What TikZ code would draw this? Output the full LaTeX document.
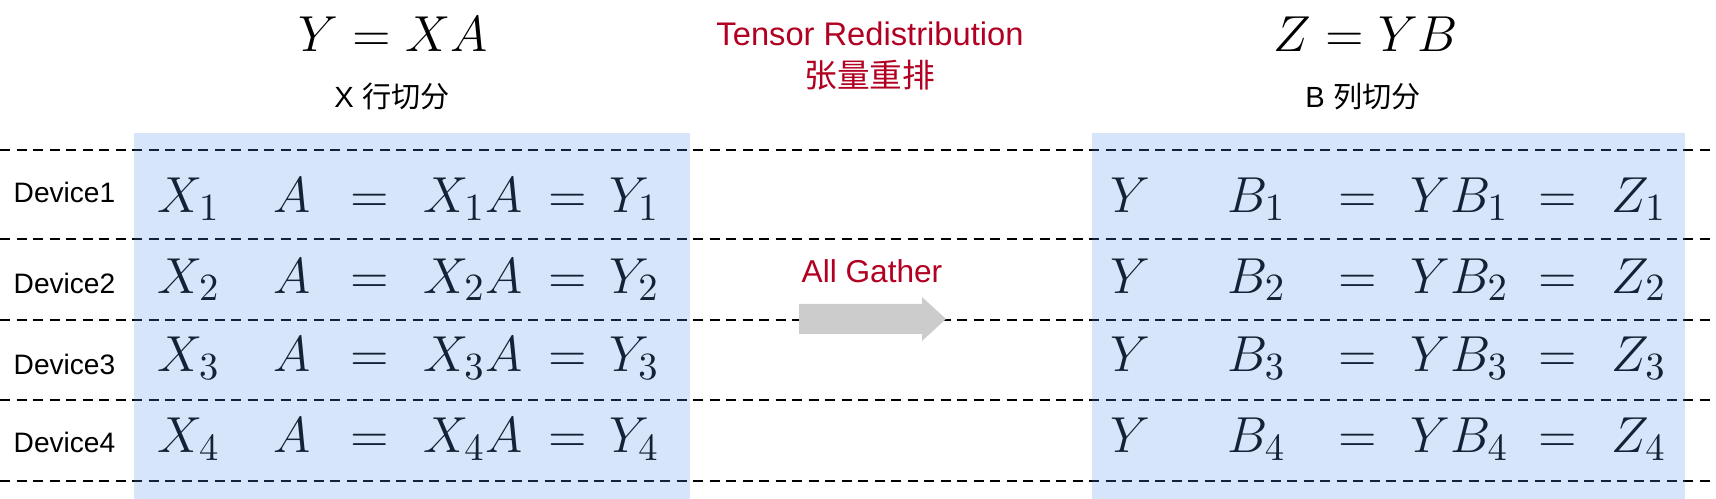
\documentclass[tikz,border=0pt]{standalone}
\usepackage[no-math]{fontspec}
\setmainfont{Liberation Sans}
\newfontfamily\cjk{Noto Sans CJK SC}
\definecolor{boxblue}{RGB}{83,146,229}
\definecolor{tred}{RGB}{178,0,34}
\definecolor{arrowgray}{RGB}{204,204,204}
\tikzset{
  eqn/.style={anchor=base,inner sep=0pt,font=\fontsize{15}{18}\selectfont},
  device/.style={anchor=base,inner sep=0pt,font=\fontsize{8}{10}\selectfont},
  note/.style={anchor=base,inner sep=0pt,font=\fontsize{8.3}{10}\selectfont},
  redlabel/.style={anchor=base,inner sep=0pt,text=tred,font=\fontsize{9.3}{11}\selectfont},
  sepline/.style={line width=0.02cm,dash pattern=on 0.1cm off 0.065cm},
  halfbox/.style={fill=boxblue,fill opacity=0.24}
}
\begin{document}
\begin{tikzpicture}
\useasboundingbox (0,0) rectangle (17.16,4.99);
% device separators
\draw[sepline] (0,3.49) -- (17.16,3.49);
\draw[sepline] (0,2.60) -- (17.16,2.60);
\draw[sepline] (0,1.79) -- (17.16,1.79);
\draw[sepline] (0,0.99) -- (17.16,0.99);
\draw[sepline] (0,0.18) -- (17.16,0.18);
% headings
\node[eqn] (tl) at (3.93,4.47) {$Y = XA$};
\node[note] (sl) at (3.92,3.91) {X {\cjk 行切分}};
\node[eqn] (tr) at (13.66,4.47) {$Z = YB$};
\node[note] (sr) at (13.63,3.91) {B {\cjk 列切分}};
\node[redlabel] (ten) at (8.70,4.53) {Tensor Redistribution};
\node[redlabel] (tcn) at (8.70,4.11) {\cjk 张量重排};
\node[redlabel,font=\fontsize{9}{11}\selectfont] (ag) at (8.72,2.16) {All Gather};
% device 1
\begin{scope}[yshift=2.86 cm]
\node[device] (d1) at (0.645,0.10) {Device1};
\node[eqn] (lx1) at (1.89,0) {$X_1$};
\node[eqn] (la1) at (2.925,0) {$A$};
\node[eqn] (leq1) at (3.70,0) {$=$};
\node[eqn] (lxa1) at (4.73,0) {$X_1A$};
\node[eqn] (lee1) at (5.68,0) {$=$};
\node[eqn] (ly1) at (6.345,0) {$Y_1$};
\node[eqn] (ry1) at (11.30,0) {$Y$};
\node[eqn] (rb1) at (12.565,0) {$B_1$};
\node[eqn] (req1) at (13.575,0) {$=$};
\node[eqn] (ryb1) at (14.595,0) {$YB_1$};
\node[eqn] (ree1) at (15.58,0) {$=$};
\node[eqn] (rz1) at (16.39,0) {$Z_1$};
\end{scope}
% device 2
\begin{scope}[yshift=2.06 cm]
\node[device] (d2) at (0.645,0) {Device2};
\node[eqn] (lx2) at (1.89,0) {$X_2$};
\node[eqn] (la2) at (2.925,0) {$A$};
\node[eqn] (leq2) at (3.70,0) {$=$};
\node[eqn] (lxa2) at (4.73,0) {$X_2A$};
\node[eqn] (lee2) at (5.68,0) {$=$};
\node[eqn] (ly2) at (6.345,0) {$Y_2$};
\node[eqn] (ry2) at (11.30,0) {$Y$};
\node[eqn] (rb2) at (12.565,0) {$B_2$};
\node[eqn] (req2) at (13.575,0) {$=$};
\node[eqn] (ryb2) at (14.595,0) {$YB_2$};
\node[eqn] (ree2) at (15.58,0) {$=$};
\node[eqn] (rz2) at (16.39,0) {$Z_2$};
\end{scope}
% device 3
\begin{scope}[yshift=1.27 cm]
\node[device] (d3) at (0.645,-0.03) {Device3};
\node[eqn] (lx3) at (1.89,0) {$X_3$};
\node[eqn] (la3) at (2.925,0) {$A$};
\node[eqn] (leq3) at (3.70,0) {$=$};
\node[eqn] (lxa3) at (4.73,0) {$X_3A$};
\node[eqn] (lee3) at (5.68,0) {$=$};
\node[eqn] (ly3) at (6.345,0) {$Y_3$};
\node[eqn] (ry3) at (11.30,0) {$Y$};
\node[eqn] (rb3) at (12.565,0) {$B_3$};
\node[eqn] (req3) at (13.575,0) {$=$};
\node[eqn] (ryb3) at (14.595,0) {$YB_3$};
\node[eqn] (ree3) at (15.58,0) {$=$};
\node[eqn] (rz3) at (16.39,0) {$Z_3$};
\end{scope}
% device 4
\begin{scope}[yshift=0.46 cm]
\node[device] (d4) at (0.645,0) {Device4};
\node[eqn] (lx4) at (1.89,0) {$X_4$};
\node[eqn] (la4) at (2.925,0) {$A$};
\node[eqn] (leq4) at (3.70,0) {$=$};
\node[eqn] (lxa4) at (4.73,0) {$X_4A$};
\node[eqn] (lee4) at (5.68,0) {$=$};
\node[eqn] (ly4) at (6.345,0) {$Y_4$};
\node[eqn] (ry4) at (11.30,0) {$Y$};
\node[eqn] (rb4) at (12.565,0) {$B_4$};
\node[eqn] (req4) at (13.575,0) {$=$};
\node[eqn] (ryb4) at (14.595,0) {$YB_4$};
\node[eqn] (ree4) at (15.58,0) {$=$};
\node[eqn] (rz4) at (16.39,0) {$Z_4$};
\end{scope}
% split halves
\fill[halfbox] (1.34,0) rectangle (6.90,3.66);
\fill[halfbox] (10.92,0) rectangle (16.85,3.66);
% all gather arrow
\fill[arrowgray] (7.99,1.65) -- (9.22,1.65) -- (9.22,1.58) -- (9.46,1.80)
  -- (9.22,2.02) -- (9.22,1.95) -- (7.99,1.95) -- cycle;
\end{tikzpicture}
\end{document}
